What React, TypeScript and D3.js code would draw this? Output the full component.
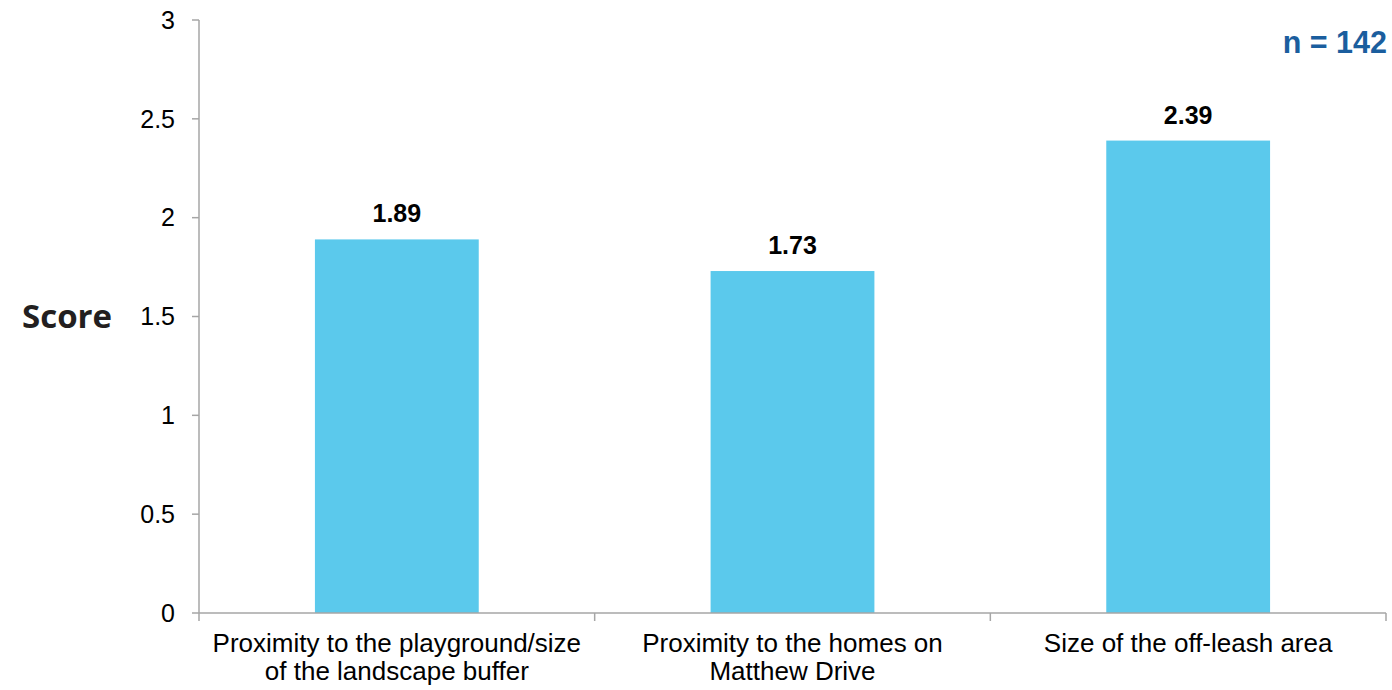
import React from "react";
import * as d3 from "d3";

const categories: string[][] = [
  ["Proximity to the playground/size", "of the landscape buffer"],
  ["Proximity to the homes on", "Matthew Drive"],
  ["Size of the off-leash area"],
];
const values: number[] = [1.89, 1.73, 2.39];
const yTicks: number[] = [0, 0.5, 1, 1.5, 2, 2.5, 3];
const yTickLabels: string[] = ["0", "0.5", "1", "1.5", "2", "2.5", "3"];
const yLabel = "Score";
const nLabel = "n = 142";

const W = 1392;
const H = 690;
const left = 199;
const right = 1386;
const top = 20;
const bottom = 613;

export default function App() {
  const keys = categories.map((c, i) => String(i));
  const x = d3.scaleBand<string>().domain(keys).range([left, right]).padding(0);
  const y = d3.scaleLinear().domain([0, 3]).range([bottom, top]);
  const barW = x.bandwidth() * 0.414;
  const axisColor = "#a6a6a6";
  const font = "Arial, 'Liberation Sans', sans-serif";
  const catTicks = [...keys.map((k) => x(k)!), right];

  return (
    <svg
      width={W}
      height={H}
      style={{ position: "absolute", left: 0, top: 0, background: "#fff" }}
      fontFamily={font}
    >
      {/* bars */}
      {values.map((v, i) => {
        const cx = x(keys[i])! + x.bandwidth() / 2;
        return (
          <g key={i}>
            <rect
              x={cx - barW / 2}
              y={y(v)}
              width={barW}
              height={y(0) - y(v)}
              fill="#5bc9ec"
            />
            <text
              x={cx}
              y={y(v) - 17}
              textAnchor="middle"
              fontSize={25}
              fontWeight="bold"
              fill="#000"
            >
              {v.toFixed(2)}
            </text>
          </g>
        );
      })}
      {/* y axis */}
      <line x1={left} x2={left} y1={top} y2={bottom} stroke={axisColor} strokeWidth={1.5} />
      {yTicks.map((t, i) => (
        <g key={t}>
          <line x1={left - 7} x2={left} y1={y(t)} y2={y(t)} stroke={axisColor} strokeWidth={1.5} />
          <text
            x={175}
            y={y(t)}
            dy="0.35em"
            textAnchor="end"
            fontSize={25}
            fill="#000"
          >
            {yTickLabels[i]}
          </text>
        </g>
      ))}
      {/* x axis */}
      <line x1={left} x2={right} y1={bottom} y2={bottom} stroke={axisColor} strokeWidth={1.5} />
      {catTicks.map((cx, i) => (
        <line key={i} x1={cx} x2={cx} y1={bottom} y2={bottom + 8} stroke={axisColor} strokeWidth={1.5} />
      ))}
      {categories.map((lines, i) => {
        const cx = x(keys[i])! + x.bandwidth() / 2;
        return (
          <text key={i} textAnchor="middle" fontSize={26} fill="#000">
            {lines.map((ln, j) => (
              <tspan key={j} x={cx} y={652 + j * 28}>
                {ln}
              </tspan>
            ))}
          </text>
        );
      })}
      {/* y label */}
      <text
        x={22}
        y={y(1.5)}
        dy="0.35em"
        fontSize={33}
        fontWeight={700}
        fontFamily="'Open Sans', sans-serif"
        fill="#231f20"
      >
        {yLabel}
      </text>
      {/* n label */}
      <text
        x={1387}
        y={53}
        textAnchor="end"
        fontSize={30.5}
        fontWeight="bold"
        fill="#1b5e9e"
      >
        {nLabel}
      </text>
    </svg>
  );
}
